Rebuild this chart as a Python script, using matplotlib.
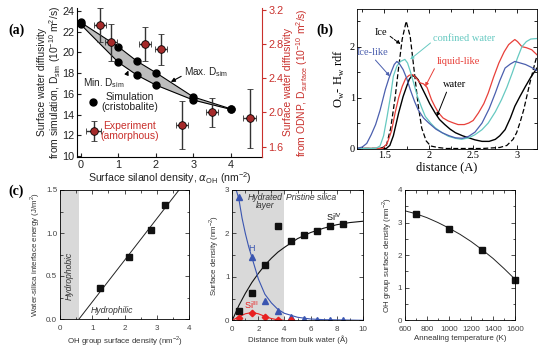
import matplotlib
matplotlib.use('Agg')
import matplotlib.pyplot as plt
from matplotlib.ticker import MultipleLocator

plt.rcParams['font.family'] = ['Liberation Sans', 'DejaVu Sans']
plt.rcParams['mathtext.fontset'] = 'dejavusans'

W, H = 546, 347

# ---------------- data: panel (a) ----------------
sim_x = [0, 1, 1.5, 2, 3, 4]
sim_max = [22.9, 20.55, 19.15, 18.05, 15.7, 14.55]
sim_min = [22.7, 19.05, 17.8, 16.85, 15.4, 14.5]
exp_x = [0.5, 0.8, 1.7, 2.15, 2.7, 3.5, 4.5]
exp_y = [3.02, 2.82, 2.80, 2.74, 1.85, 2.0, 1.93]
exp_yerr = [0.2, 0.22, 0.2, 0.18, 0.28, 0.17, 0.34]
exp_xerr = [0.16, 0.16, 0.16, 0.16, 0.16, 0.17, 0.17]

# ---------------- data: panel (b) ----------------
ice_x = [1.19, 1.45, 1.52, 1.57, 1.62, 1.66, 1.70, 1.745, 1.79, 1.83, 1.88, 1.92, 1.97, 2.02,
         2.1, 2.2, 2.4, 2.6, 2.8, 2.88, 2.95, 2.99, 3.03, 3.07, 3.14, 3.2, 3.22]
ice_y = [0, 0, 0.05, 0.4, 1.0, 1.6, 2.15, 2.5, 2.2, 1.6, 0.85, 0.4, 0.15, 0.05,
         0.02, 0.0, 0.0, 0.0, 0.02, 0.06, 0.18, 0.31, 0.52, 0.76, 1.29, 1.7, 1.82]
icelike_x = [1.19, 1.25, 1.3, 1.35, 1.4, 1.45, 1.51, 1.55, 1.58, 1.61, 1.64, 1.67, 1.71, 1.75,
             1.79, 1.84, 1.88, 1.94, 2.0, 2.08, 2.15, 2.23, 2.3, 2.38, 2.45, 2.52, 2.6, 2.68,
             2.75, 2.8, 2.86, 2.92, 2.97, 3.03, 3.09, 3.15, 3.2, 3.22]
icelike_y = [0.0, 0.03, 0.1, 0.27, 0.47, 0.75, 1.16, 1.38, 1.52, 1.65, 1.71, 1.66, 1.55, 1.38,
             1.16, 0.92, 0.76, 0.6, 0.5, 0.38, 0.31, 0.25, 0.21, 0.2, 0.24, 0.32, 0.5, 0.78,
             1.09, 1.33, 1.58, 1.66, 1.71, 1.68, 1.65, 1.6, 1.55, 1.53]
conf_x = [1.19, 1.4, 1.45, 1.49, 1.53, 1.57, 1.60, 1.64, 1.68, 1.73, 1.76, 1.79, 1.83, 1.87,
          1.92, 1.96, 2.02, 2.07, 2.15, 2.22, 2.3, 2.37, 2.45, 2.52, 2.6, 2.67, 2.75, 2.82,
          2.88, 2.94, 3.0, 3.05, 3.1, 3.15, 3.22]
conf_y = [0, 0, 0.05, 0.25, 0.63, 1.05, 1.42, 1.62, 1.71, 1.75, 1.68, 1.52, 1.28, 1.03,
          0.8, 0.63, 0.5, 0.41, 0.31, 0.24, 0.2, 0.18, 0.21, 0.27, 0.37, 0.5, 0.72, 0.96,
          1.2, 1.48, 1.78, 2.0, 2.1, 2.15, 2.16]
liq_x = [1.19, 1.48, 1.53, 1.58, 1.62, 1.66, 1.70, 1.74, 1.78, 1.82, 1.86, 1.90, 1.94, 1.98,
         2.03, 2.07, 2.11, 2.16, 2.22, 2.28, 2.33, 2.4, 2.45, 2.5, 2.56, 2.62, 2.67, 2.73,
         2.79, 2.85, 2.90, 2.94, 2.97, 3.0, 3.05, 3.1, 3.16, 3.22]
liq_y = [0, 0, 0.1, 0.35, 0.7, 1.0, 1.22, 1.38, 1.44, 1.45, 1.38, 1.29, 1.27, 1.2,
         0.96, 0.82, 0.7, 0.6, 0.54, 0.5, 0.47, 0.47, 0.5, 0.55, 0.7, 0.88, 1.09, 1.4,
         1.68, 1.9, 2.04, 2.1, 2.14, 2.1, 2.0, 1.98, 1.94, 1.84]
wat_x = [1.19, 1.52, 1.56, 1.6, 1.66, 1.71, 1.75, 1.78, 1.81, 1.85, 1.88, 1.92, 1.96, 2.01,
         2.07, 2.12, 2.18, 2.24, 2.3, 2.38, 2.45, 2.52, 2.6, 2.68, 2.75, 2.8, 2.86, 2.92,
         2.97, 3.03, 3.09, 3.15, 3.22]
wat_y = [0, 0, 0.06, 0.25, 0.7, 1.02, 1.22, 1.36, 1.43, 1.41, 1.35, 1.2, 1.06, 0.88,
         0.7, 0.57, 0.47, 0.38, 0.31, 0.25, 0.21, 0.17, 0.14, 0.14, 0.18, 0.25, 0.37, 0.6,
         0.83, 1.03, 1.22, 1.4, 1.58]

# ---------------- data: panel (c) ----------------
c1_x = [1.24, 2.15, 2.82, 3.26]
c1_y = [0.355, 0.72, 1.03, 1.33]
c1_fit_x = [0.59, 3.69]
c1_fit_y = [0.0, 1.5]

c2_x = [0.5, 1.5, 2.5, 3.5, 4.5, 5.5, 6.5, 7.5, 8.5]
si4_y = [0.22, 0.62, 1.27, 2.16, 1.83, 1.97, 2.05, 2.17, 2.21]
h_y = [2.83, 1.45, 0.45, 0.22, 0.07, 0.02, 0.01, 0.01, 0.01]
si3_y = [0.05, 0.16, 0.08, 0.0, 0.0]
si4_fit_x = [0, 0.5, 1, 1.5, 2, 2.5, 3, 3.5, 4, 5, 6, 7, 8, 9, 10]
si4_fit_y = [0, 0.34, 0.62, 0.87, 1.08, 1.27, 1.43, 1.57, 1.68, 1.88, 2.02, 2.12, 2.2, 2.25, 2.28]
h_fit_x = [0.3, 0.5, 0.75, 1, 1.25, 1.5, 2, 2.5, 3, 3.5, 4, 5, 6, 7, 8, 9, 10]
h_fit_y = [3.0, 2.8, 2.35, 2.0, 1.7, 1.45, 0.95, 0.6, 0.4, 0.25, 0.16, 0.07, 0.03, 0.015, 0.01, 0.005, 0.0]
si3_fit_x = [0, 0.5, 1, 1.5, 2, 2.5, 3, 3.5, 4]
si3_fit_y = [0, 0.08, 0.15, 0.18, 0.15, 0.09, 0.04, 0.01, 0.0]

c3_x = [700, 1000, 1300, 1600]
c3_y = [3.26, 2.81, 2.15, 1.24]
c3_fit_x = [600, 700, 800, 900, 1000, 1100, 1200, 1300, 1400, 1500, 1600]
c3_fit_y = [3.36, 3.27, 3.15, 3.0, 2.83, 2.64, 2.42, 2.17, 1.9, 1.59, 1.26]

RED = '#c9302c'
fig = plt.figure(figsize=(W / 100, H / 100), dpi=100)

def box(l, t, r, b):
    return [l / W, 1 - b / H, (r - l) / W, (b - t) / H]

# ================= panel (a) =================
ax = fig.add_axes(box(77, 8, 262, 157))
ax.fill_between(sim_x, sim_min, sim_max, color='#bdbdbd', lw=0, zorder=1)
ax.plot(sim_x, sim_max, '-', color='k', lw=0.8, zorder=2)
ax.plot(sim_x, sim_min, '-', color='k', lw=0.8, zorder=2)
ax.plot(sim_x, sim_max, 'o', color='k', ms=5, zorder=3)
ax.plot(sim_x, sim_min, 'o', color='k', ms=5, zorder=3)
ax.set_xlim(-0.1, 4.83)
ax.set_ylim(9.9, 24.29)
ax.set_yticks(range(10, 25, 2))
ax.set_xticks([0, 1, 2, 3, 4])
ax.spines['top'].set_visible(False)
ax.spines['right'].set_visible(False)
ax.tick_params(direction='in', length=3, width=0.8, labelsize=7.8, colors='#222', pad=2)
ax.set_xlabel('Surface silanol density, $\\alpha_\\mathregular{OH}$ (nm$^\\mathregular{-2}$)',
              fontsize=7.6, labelpad=0.5, color='#222')
ax.set_ylabel('Surface water diffusivity\nfrom simulation, D$_\\mathregular{sim}$ (10$^\\mathregular{-10}$ m$^\\mathregular{2}$/s)',
              fontsize=7.4, color='#222', linespacing=1.05)
ax.yaxis.set_label_coords(-0.075, 0.5)
ax.annotate('Min. D$_\\mathregular{sim}$', xy=(1.27, 18.25), xytext=(0.05, 17.0),
            fontsize=7.2, color='#222', va='center',
            arrowprops=dict(arrowstyle='-|>', color='k', lw=0.8, mutation_scale=6,
                            shrinkA=0, shrinkB=0, relpos=(1.0, 0.7)))
ax.annotate('Max. D$_\\mathregular{sim}$', xy=(2.4, 17.15), xytext=(2.75, 18.1),
            fontsize=7.2, color='#222', va='center',
            arrowprops=dict(arrowstyle='-|>', color='k', lw=0.8, mutation_scale=6,
                            shrinkA=0, shrinkB=0, relpos=(0.0, 0.3)))
# legend entries
ax.plot([0.33], [15.25], 'o', color='k', ms=5)
ax.errorbar([0.34], [12.4], yerr=[0.95], xerr=[0.2], fmt='o', ms=5.5, mfc='#a52a2a',
            mec='k', mew=0.6, ecolor='#333', elinewidth=1, capsize=2)
ax.text(1.3, 15.2, 'Simulation\n(cristobalite)', fontsize=7.5, ha='center', va='center',
        color='#222', linespacing=1.05)
ax.text(1.3, 12.4, 'Experiment\n(amorphous)', fontsize=7.5, ha='center', va='center',
        color=RED, linespacing=1.05)

axr = ax.twinx()
axr.errorbar(exp_x, exp_y, yerr=exp_yerr, xerr=exp_xerr, fmt='o', ms=5.5, mfc='#a52a2a',
             mec='k', mew=0.6, ecolor='#333', elinewidth=1, capsize=2, zorder=4)
axr.set_ylim(1.479, 3.223)
axr.set_yticks([1.6, 2.0, 2.4, 2.8, 3.2])
axr.spines['top'].set_visible(False)
axr.spines['left'].set_visible(False)
axr.spines['bottom'].set_visible(False)
axr.spines['right'].set_color(RED)
axr.tick_params(axis='y', direction='out', length=3, width=0.8, colors=RED, labelsize=7.8, pad=1.5)
axr.set_ylabel('Surface water diffusivity\nfrom ODNP, D$_\\mathregular{surface}$ (10$^\\mathregular{-10}$ m$^\\mathregular{2}$/s)',
               fontsize=7.4, color=RED, linespacing=1.05, rotation=90)
axr.yaxis.set_label_coords(1.115, 0.5)
fig.text(8 / W, 1 - 30 / H, '(a)', fontsize=10, fontweight='bold', family='Liberation Serif',
         va='center')

# ================= panel (b) =================
SERIF = 'Liberation Serif'
bx = fig.add_axes(box(357, 9, 537, 148.5))
bx.plot(ice_x, ice_y, '--', color='k', lw=0.9, dashes=(4, 2))
bx.plot(wat_x, wat_y, '-', color='k', lw=1.0)
bx.plot(liq_x, liq_y, '-', color='#e8403a', lw=0.9)
bx.plot(conf_x, conf_y, '-', color='#66c9c1', lw=0.9)
bx.plot(icelike_x, icelike_y, '-', color='#4b5fae', lw=0.9)
bx.set_xlim(1.19, 3.22)
bx.set_ylim(0, 2.74)
bx.set_xticks([1.5, 2, 2.5, 3])
bx.set_xticklabels(['1.5', '2', '2.5', '3'])
bx.set_yticks([0, 1, 2])
bx.xaxis.set_minor_locator(MultipleLocator(0.25))
bx.yaxis.set_minor_locator(MultipleLocator(0.5))
bx.tick_params(which='both', direction='in', top=True, right=True, width=0.6)
bx.tick_params(which='major', length=3, labelsize=7.5, pad=1.5)
bx.tick_params(which='minor', length=2)
for lab in bx.get_xticklabels() + bx.get_yticklabels():
    lab.set_family(SERIF)
for s in bx.spines.values():
    s.set_linewidth(0.6)
bx.set_xlabel('distance (A)', family=SERIF, fontsize=9, labelpad=1)
bx.set_ylabel('O$_\\mathregular{w}$- H$_\\mathregular{w}$ rdf', family=SERIF, fontsize=9, labelpad=2)
arrow = dict(arrowstyle='-|>', lw=0.7, mutation_scale=5, shrinkA=0, shrinkB=0)
bx.annotate('Ice', xy=(1.68, 2.05), xytext=(1.39, 2.28), family=SERIF, fontsize=7.5,
            va='center', arrowprops=dict(arrow, color='k', ls='--', relpos=(1, 0.3)))
bx.annotate('Ice-like', xy=(1.56, 1.42), xytext=(1.37, 1.88), family=SERIF, fontsize=7.5,
            color='#4b5fae', ha='center', va='center',
            arrowprops=dict(arrow, color='#4b5fae', relpos=(0.5, 0.0)))
bx.annotate('confined water', xy=(1.79, 1.75), xytext=(2.05, 2.17), family=SERIF, fontsize=7.5,
            color='#66c9c1', va='center',
            arrowprops=dict(arrow, color='#66c9c1', relpos=(0, 0.2)))
bx.annotate('liquid-like', xy=(1.96, 1.22), xytext=(2.09, 1.71), family=SERIF, fontsize=7.5,
            color='#e8403a', va='center',
            arrowprops=dict(arrow, color='#e8403a', relpos=(0, 0.2)))
bx.annotate('water', xy=(2.09, 0.63), xytext=(2.16, 1.25), family=SERIF, fontsize=7.5,
            color='k', va='center',
            arrowprops=dict(arrow, color='k', relpos=(0.2, 0.0)))
fig.text(316 / W, 1 - 30 / H, '(b)', fontsize=10, fontweight='bold', family=SERIF, va='center')

# ================= panel (c) =================
fig.text(8 / W, 1 - 191 / H, '(c)', fontsize=10, fontweight='bold', family=SERIF, va='center')
TC = '#444444'

def style_c(a):
    a.tick_params(which='both', direction='in', top=True, right=True, width=0.6, colors='#333',
                  labelcolor=TC)
    a.tick_params(which='major', length=3, labelsize=5.8, pad=2)
    a.tick_params(axis='x', which='major', pad=4)
    a.tick_params(which='minor', length=1.8)
    for s in a.spines.values():
        s.set_linewidth(0.6)

# left
c1 = fig.add_axes(box(60, 190, 189, 319))
c1.axvspan(0, 0.59, color='#d9d9d9', lw=0)
c1.plot(c1_fit_x, c1_fit_y, '-', color='#222', lw=0.7)
c1.plot(c1_x, c1_y, 's', color='#111', ms=4.2)
c1.set_xlim(0, 4)
c1.set_ylim(0, 1.5)
c1.set_xticks([0, 1, 2, 3, 4])
c1.set_yticks([0, 0.5, 1.0, 1.5])
c1.set_yticklabels(['0.0', '0.5', '1.0', '1.5'])
c1.xaxis.set_minor_locator(MultipleLocator(0.5))
c1.yaxis.set_minor_locator(MultipleLocator(0.25))
style_c(c1)
c1.set_xlabel('OH group surface density (nm$^\\mathregular{-2}$)', fontsize=5.7, color='#333', labelpad=1.5)
c1.set_ylabel('Water-silica interface energy (J/m$^\\mathregular{2}$)', fontsize=5.7, color='#333', labelpad=3)
c1.text(0.3, 0.5, 'Hydrophobic', rotation=90, style='italic', fontsize=6.2, color='#333',
        ha='center', va='center')
c1.text(0.95, 0.1, 'Hydrophilic', style='italic', fontsize=6.2, color='#333', va='center')

# middle
c2 = fig.add_axes(box(232.3, 190, 362.7, 320.3))
c2.axvspan(0, 3.96, color='#d9d9d9', lw=0)
c2.plot(si4_fit_x, si4_fit_y, '-', color='#111', lw=0.8)
c2.plot(h_fit_x, h_fit_y, '-', color='#3a55b0', lw=0.8)
c2.plot(si3_fit_x, si3_fit_y, '-', color='#e82020', lw=0.8)
c2.plot(c2_x, si4_y, 's', color='#111', ms=4.2)
c2.plot(c2_x, h_y, '^', color='#3a55b0', ms=4.5)
c2.plot(c2_x[:len(si3_y)], si3_y, 'D', color='#e82020', ms=3.3)
c2.set_xlim(0, 10)
c2.set_ylim(0, 3)
c2.set_xticks([0, 2, 4, 6, 8, 10])
c2.set_yticks([0, 1, 2, 3])
c2.xaxis.set_minor_locator(MultipleLocator(1))
c2.yaxis.set_minor_locator(MultipleLocator(0.5))
style_c(c2)
c2.set_xlabel('Distance from bulk water (\u00c5)', fontsize=5.7, color='#333', labelpad=1.5)
c2.set_ylabel('Surface density (nm$^\\mathregular{-2}$)', fontsize=5.7, color='#333', labelpad=3)
c2.text(2.5, 2.93, 'Hydrated\nlayer', style='italic', fontsize=6.2, color='#333',
        ha='center', va='top', linespacing=0.9)
c2.text(4.15, 2.93, 'Pristine silica', style='italic', fontsize=6.2, color='#333', va='top')
c2.text(7.2, 2.37, 'Si$^\\mathregular{IV}$', fontsize=6.5, color='#111', va='center')
c2.text(1.5, 1.66, 'H', fontsize=6.5, color='#3a55b0', ha='center', va='center')
c2.text(1.45, 0.35, 'Si$^\\mathregular{III}$', fontsize=6.5, color='#e82020', ha='center', va='center')

# right
c3 = fig.add_axes(box(405, 190, 515, 320.3))
c3.plot(c3_fit_x, c3_fit_y, '-', color='#222', lw=0.7)
c3.plot(c3_x, c3_y, 's', color='#111', ms=4.2, clip_on=False)
c3.set_xlim(600, 1600)
c3.set_ylim(0, 4)
c3.set_xticks([600, 800, 1000, 1200, 1400, 1600])
c3.set_yticks([0, 1, 2, 3, 4])
c3.xaxis.set_minor_locator(MultipleLocator(100))
c3.yaxis.set_minor_locator(MultipleLocator(0.5))
style_c(c3)
c3.set_xlabel('Annealing temperature (K)', fontsize=5.7, color='#333', labelpad=1.5)
c3.set_ylabel('OH group surface density (nm$^\\mathregular{-2}$)', fontsize=5.7, color='#333', labelpad=3)

fig.savefig('out.png', dpi=100)
